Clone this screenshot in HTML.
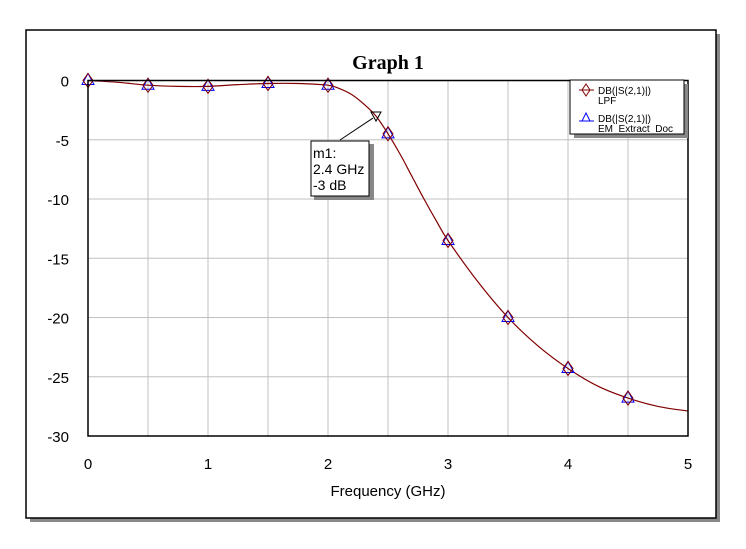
<!DOCTYPE html>
<html><head><meta charset="utf-8"><style>
body{margin:0;background:#fff;width:746px;height:549px;overflow:hidden}
svg{display:block;font-family:"Liberation Sans",Arial,sans-serif}
</style></head><body>
<svg id="chart" width="746" height="549">
<rect x="30" y="34" width="690" height="488" fill="#888"/>
<rect x="26" y="30" width="690" height="488" fill="#fff" stroke="#000" stroke-width="1.5"/>
<text x="388" y="69" text-anchor="middle" font-family="Liberation Serif,serif" font-weight="bold" font-size="20">Graph 1</text>
<g id="grid"></g><g id="ticks"></g><g id="series"></g>
<rect x="88" y="80.5" width="600" height="355.5" fill="none" stroke="#000" stroke-width="1.5"/>
<text x="388" y="496" text-anchor="middle" font-size="15">Frequency (GHz)</text>
<g>
<rect x="574" y="84" width="114" height="54" fill="#888"/>
<rect x="570" y="80" width="114" height="54" fill="#fff" stroke="#000"/>
<path d="M586 84 L590 90 L586 96 L582 90 Z M579 90 H594" fill="none" stroke="#800000"/>
<text x="598" y="94" font-size="10">DB(|S(2,1)|)</text>
<text x="598" y="104" font-size="10">LPF</text>
<path d="M586 113 L590 121 L582 121 Z M579 121 H594" fill="none" stroke="#0000ff"/>
<text x="598" y="122" font-size="10">DB(|S(2,1)|)</text>
<text x="598" y="132" font-size="10">EM_Extract_Doc</text>
</g>
<g id="marker"></g>
</svg>
<script>
const freqs=[0,0.25,0.5,0.75,1,1.25,1.5,1.75,2,2.1,2.2,2.3,2.4,2.5,2.6,2.7,2.8,2.9,3,3.25,3.5,3.75,4,4.25,4.5,4.75,5];
const lpf=[0,-0.15,-0.4,-0.5,-0.5,-0.35,-0.25,-0.25,-0.4,-0.7,-1.2,-2.0,-3.0,-4.5,-6.2,-8.1,-10,-11.8,-13.5,-17,-20,-22.4,-24.3,-25.8,-26.8,-27.5,-27.9];
const symFreqs=[0,0.5,1,1.5,2,2.5,3,3.5,4,4.5];
const symVals=[0,-0.4,-0.5,-0.25,-0.4,-4.5,-13.5,-20,-24.3,-26.8];
const xTicks=[0,1,2,3,4,5];
const yTicks=[0,-5,-10,-15,-20,-25,-30];
const markerF=2.4, markerV=-3;
const NS="http://www.w3.org/2000/svg";
const X=f=>88+f/5*600, Y=v=>80.5-v/30*355.5;
function mk(t,a,p){const e=document.createElementNS(NS,t);for(const k in a)e.setAttribute(k,a[k]);p.appendChild(e);return e;}
const grid=document.getElementById('grid'),ticks=document.getElementById('ticks'),ser=document.getElementById('series');
for(let f=0.5;f<5;f+=0.5){const l=mk('line',{x1:X(f),x2:X(f),y1:80.5,y2:436,stroke:'#c0c0c0'},grid);

}
for(let v=-5;v>-30;v-=5){const l=mk('line',{x1:88,x2:688,y1:Y(v),y2:Y(v),stroke:'#c0c0c0'},grid);

}
xTicks.forEach(t=>{const e=mk('text',{x:X(t),y:469,'text-anchor':'middle','font-size':15},ticks);e.textContent=t;

});
yTicks.forEach(t=>{const e=mk('text',{x:69,y:Y(t)+6,'text-anchor':'end','font-size':15},ticks);e.textContent=t;

});
const pts=freqs.map((f,i)=>[X(f),Y(lpf[i])]);
let d='M'+pts[0][0]+' '+pts[0][1];
for(let i=0;i<pts.length-1;i++){const p0=pts[Math.max(0,i-1)],p1=pts[i],p2=pts[i+1],p3=pts[Math.min(pts.length-1,i+2)];
const c1=[p1[0]+(p2[0]-p0[0])/6,p1[1]+(p2[1]-p0[1])/6],c2=[p2[0]-(p3[0]-p1[0])/6,p2[1]-(p3[1]-p1[1])/6];
d+=` C${c1[0].toFixed(1)} ${c1[1].toFixed(1)} ${c2[0].toFixed(1)} ${c2[1].toFixed(1)} ${p2[0].toFixed(1)} ${p2[1].toFixed(1)}`;}
const c=mk('path',{d:d,fill:'none',stroke:'#800000','stroke-width':1.2,'stroke-linejoin':'round'},ser);


symFreqs.forEach((f,i)=>{const x=X(f),y=Y(symVals[i]);
const t=mk('path',{d:`M${x} ${y-7} L${x+6} ${y+4} L${x-6} ${y+4} Z`,fill:'none',stroke:'#0000ff'},ser);


const m=mk('path',{d:`M${x} ${y-7} L${x+5} ${y} L${x} ${y+7} L${x-5} ${y} Z`,fill:'none',stroke:'#800000'},ser);

});
const mg=document.getElementById('marker');const mx=X(markerF),my=Y(markerV);
mk('path',{d:`M${mx-5} ${my-4} L${mx+5} ${my-4} L${mx} ${my+5} Z`,fill:'none',stroke:'#000'},mg);
mk('line',{x1:mx-3,y1:my+2,x2:340,y2:140,stroke:'#000'},mg);
mk('rect',{x:314,y:144,width:60,height:56,fill:'#888'},mg);
mk('rect',{x:311,y:141,width:58,height:55,fill:'#fff',stroke:'#000'},mg);
['m1:',markerF+' GHz',markerV+' dB'].forEach((s,i)=>{const e=mk('text',{x:313,y:158+i*16,'font-size':14},mg);e.textContent=s;});
</script>
</body></html>
